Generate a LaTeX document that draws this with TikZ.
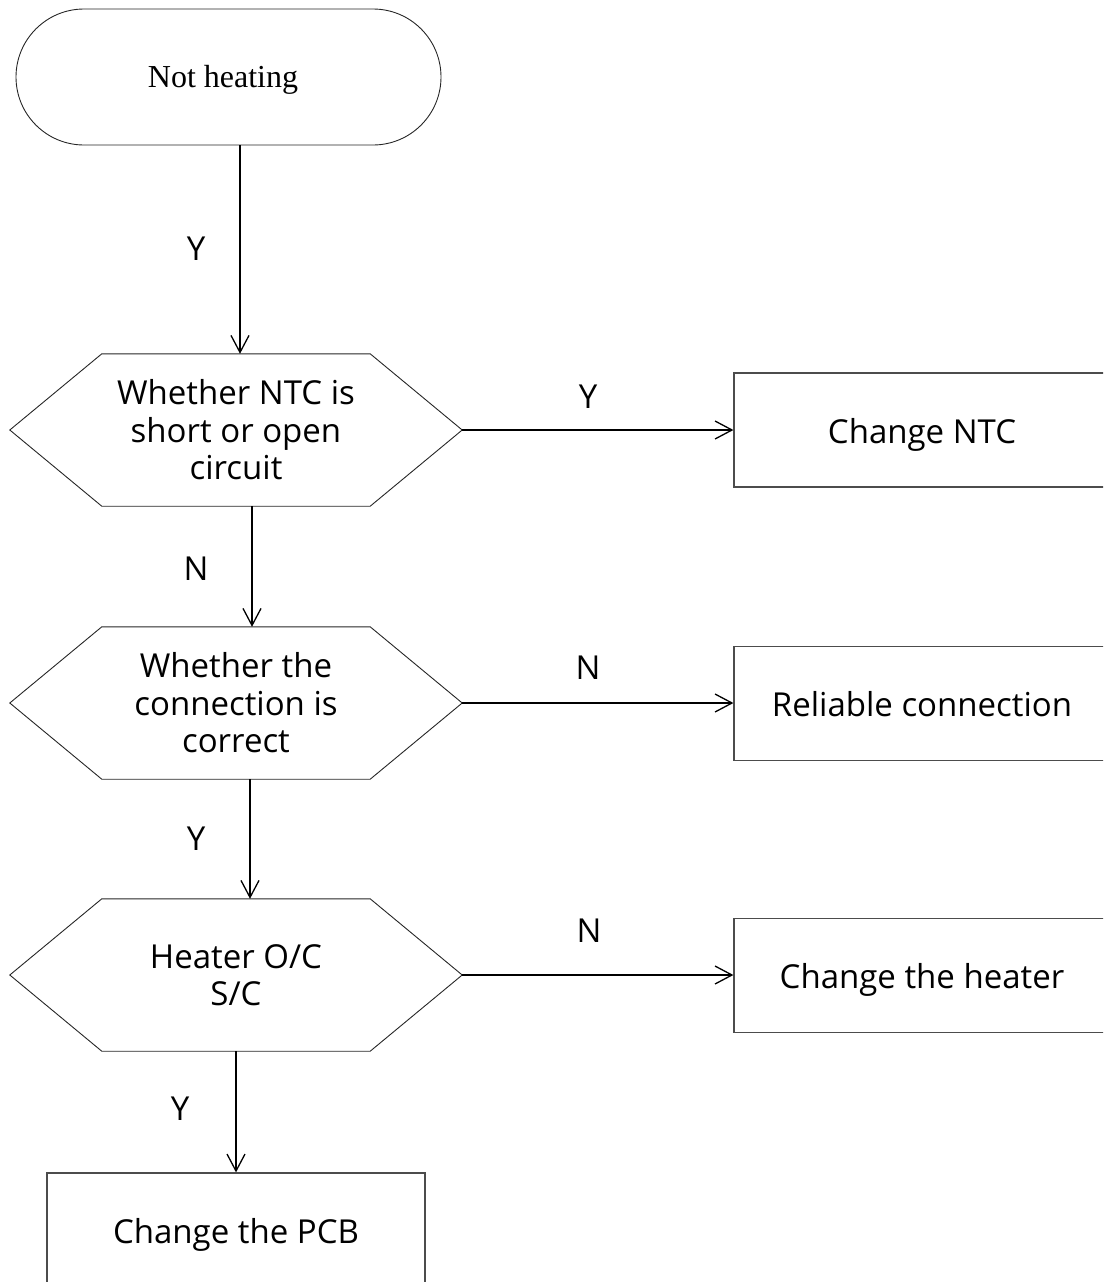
\documentclass[tikz,border=0pt]{standalone}
\usepackage{fontspec}
\setmainfont{Open Sans}
\newfontfamily\serifnh{Liberation Serif}
\usetikzlibrary{arrows.meta}
\begin{document}
\begin{tikzpicture}[x=1pt,y=-1pt,
  txt/.style={font=\fontsize{33}{37.5}\selectfont},
  lbl/.style={txt, inner sep=0pt},
  hexbox/.style={txt, minimum width=452pt, minimum height=152pt, inner sep=0pt, align=center},
  procbox/.style={txt, draw=black!70, line width=1.2pt, minimum width=376pt, minimum height=114pt, inner sep=0pt,
                  text height=34pt, text depth=8pt},
  hexline/.style={line width=0.9pt, draw=black!85},
  conn/.style={line width=1.3pt, -{Straight Barb[length=17pt, width=18pt, line width=1.3pt]}}
]
\useasboundingbox (0,0) rectangle (1103,1282);
\clip (0,0) rectangle (1103,1282);

% start terminal
\node[draw=black!85, line width=0.9pt, rounded corners=68pt, minimum width=425pt, minimum height=136pt, inner sep=0pt,
      label={[xshift=-5.5pt, yshift=-3pt, font=\serifnh\fontsize{32}{36}\selectfont]center:Not heating}] (term) at (228.5,77) {};

% decisions
\node[hexbox] (h1) at (236,430) {Whether NTC is\\short or open\\circuit};
\node[hexbox] (h2) at (236,703) {Whether the\\connection is\\correct};
\node[hexbox] (h3) at (236,975) {Heater O/C\\S/C};
\foreach \h in {h1,h2,h3}{
  \draw[hexline] (\h.west) -- ([xshift=92pt]\h.north west) -- ([xshift=-92pt]\h.north east)
    -- (\h.east) -- ([xshift=-92pt]\h.south east) -- ([xshift=92pt]\h.south west) -- cycle;
}

% process boxes
\node[procbox] (b1) at (922,430) {Change NTC};
\node[procbox] (b2) at (922,703.5) {Reliable connection};
\node[procbox] (b3) at (922,975.5) {Change the heater};
\node[procbox, minimum width=378pt] (pcb) at (236,1230) {Change the PCB};

% connectors
\draw[conn] ([xshift=11.5pt]term.south) -- ([xshift=4pt]h1.north);
\draw[conn] ([xshift=16pt]h1.south) -- ([xshift=16pt]h2.north);
\draw[conn] ([xshift=14pt]h2.south) -- ([xshift=14pt]h3.north);
\draw[conn] (h3.south) -- (pcb.north);
\draw[conn] (h1.east) -- (h1.east -| b1.west);
\draw[conn] (h2.east) -- (h2.east -| b2.west);
\draw[conn] (h3.east) -- (h3.east -| b3.west);

% labels
\node[lbl] (l1) at (196,249) {Y};
\node[lbl] (l2) at (588,397) {Y};
\node[lbl] (l3) at (196,569) {N};
\node[lbl] (l4) at (588,668) {N};
\node[lbl] (l5) at (196,839) {Y};
\node[lbl] (l6) at (589,931) {N};
\node[lbl] (l7) at (180,1109) {Y};
\end{tikzpicture}
\end{document}
